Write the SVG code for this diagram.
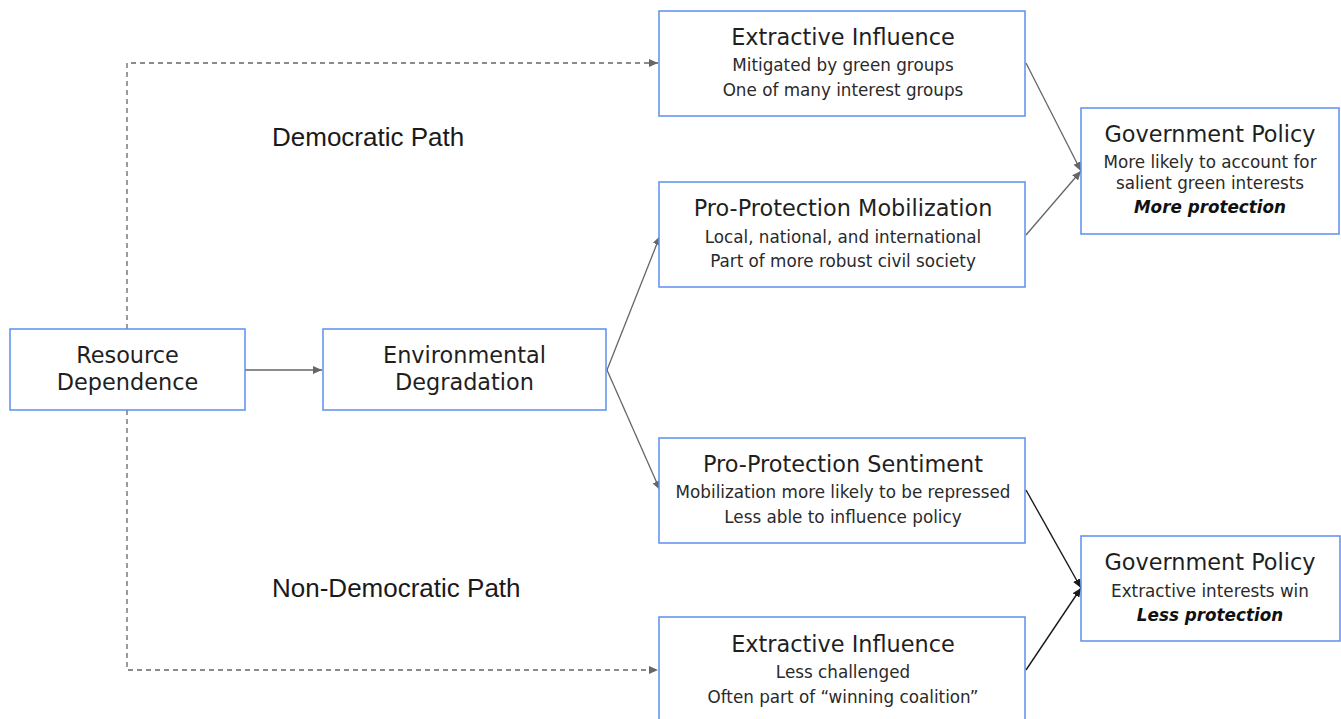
<svg xmlns="http://www.w3.org/2000/svg" width="1341" height="719" viewBox="0 0 1341 719">
<style>
.box{fill:#fff;stroke:#5b8ff0;stroke-width:1.5}
.t{font-family:"DejaVu Sans",Verdana,sans-serif;font-size:22.4px;fill:#1f1f1f;text-anchor:middle}
.s{font-family:"DejaVu Sans",Verdana,sans-serif;font-size:16.8px;fill:#2a2a2a;text-anchor:middle}
.b{font-weight:bold;font-style:italic;fill:#111}
.lbl{font-family:"Liberation Sans",Arial,sans-serif;font-size:26px;fill:#1a1a1a}
.c{fill:none;stroke:#666;stroke-width:1.3}
.cd{fill:none;stroke:#1a1a1a;stroke-width:1.4}
.dash{stroke-dasharray:5 4}
</style>
<defs>
<marker id="ag" markerUnits="userSpaceOnUse" markerWidth="10" markerHeight="8" refX="9" refY="4" orient="auto"><path d="M0,0 L9,4 L0,8 z" fill="#666"/></marker>
<marker id="ak" markerUnits="userSpaceOnUse" markerWidth="10" markerHeight="8" refX="9" refY="4" orient="auto"><path d="M0,0 L9,4 L0,8 z" fill="#1a1a1a"/></marker>
</defs>
<rect width="1341" height="719" fill="#fff"/>
<g id="connectors">
<path class="c" d="M245,370 L322,370" marker-end="url(#ag)"/>
<path class="c dash" d="M127,329 L127,63 L658,63" marker-end="url(#ag)"/>
<path class="c dash" d="M127,410 L127,670 L658,670" marker-end="url(#ag)"/>
<path class="c" d="M607,370 L660,236" marker-end="url(#ag)"/>
<path class="c" d="M607,370 L660,490" marker-end="url(#ag)"/>
<path class="c" d="M1026,63 L1081,171" marker-end="url(#ag)"/>
<path class="c" d="M1026,235 L1081,171" marker-end="url(#ag)"/>
<path class="cd" d="M1026,490 L1081,588" marker-end="url(#ak)"/>
<path class="cd" d="M1026,670 L1081,588" marker-end="url(#ak)"/>
</g>
<g id="labels">
<text class="lbl" x="272" y="146">Democratic Path</text>
<text class="lbl" x="272" y="597">Non-Democratic Path</text>
</g>
<g id="resource-dependence">
<rect class="box" x="10" y="329" width="235" height="81"/>
<text class="t" x="127.5" y="363">Resource</text>
<text class="t" x="127.5" y="390">Dependence</text>
</g>
<g id="environmental-degradation">
<rect class="box" x="323" y="329" width="283" height="81"/>
<text class="t" x="464.5" y="363">Environmental</text>
<text class="t" x="464.5" y="390">Degradation</text>
</g>
<g id="extractive-influence-dem">
<rect class="box" x="659" y="11" width="366" height="105"/>
<text class="t" x="843" y="45">Extractive Influence</text>
<text class="s" x="843" y="71">Mitigated by green groups</text>
<text class="s" x="843" y="96">One of many interest groups</text>
</g>
<g id="pro-protection-mobilization">
<rect class="box" x="659" y="182" width="366" height="105"/>
<text class="t" x="843" y="216">Pro-Protection Mobilization</text>
<text class="s" x="843" y="243">Local, national, and international</text>
<text class="s" x="843" y="267">Part of more robust civil society</text>
</g>
<g id="pro-protection-sentiment">
<rect class="box" x="659" y="438" width="366" height="105"/>
<text class="t" x="843" y="472">Pro-Protection Sentiment</text>
<text class="s" x="843" y="498">Mobilization more likely to be repressed</text>
<text class="s" x="843" y="523">Less able to influence policy</text>
</g>
<g id="extractive-influence-nondem">
<rect class="box" x="659" y="617" width="366" height="110"/>
<text class="t" x="843" y="652">Extractive Influence</text>
<text class="s" x="843" y="678">Less challenged</text>
<text class="s" x="843" y="703">Often part of “winning coalition”</text>
</g>
<g id="government-policy-dem">
<rect class="box" x="1081" y="108" width="258" height="126"/>
<text class="t" x="1210" y="142">Government Policy</text>
<text class="s" x="1210" y="168">More likely to account for</text>
<text class="s" x="1210" y="189">salient green interests</text>
<text class="s b" x="1210" y="213">More protection</text>
</g>
<g id="government-policy-nondem">
<rect class="box" x="1081" y="536" width="259" height="105"/>
<text class="t" x="1210" y="570">Government Policy</text>
<text class="s" x="1210" y="597">Extractive interests win</text>
<text class="s b" x="1210" y="621">Less protection</text>
</g>
</svg>
